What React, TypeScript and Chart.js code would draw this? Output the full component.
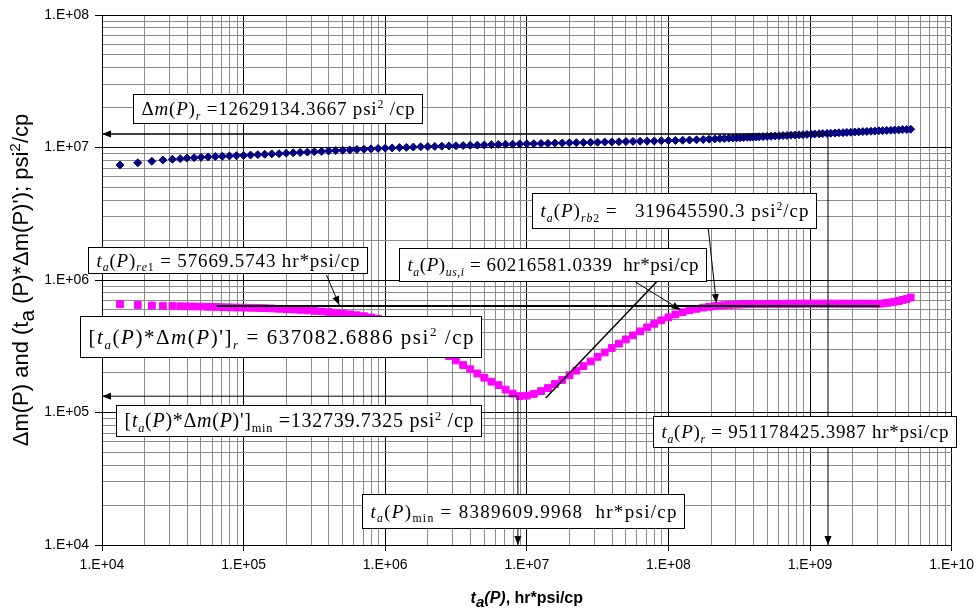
import { useEffect, useRef } from 'react';
import { Chart, registerables } from 'chart.js';

Chart.register(...registerables);

// ---- data ----
const pseudoTime: number[] = [
  1.34e4, 1.79e4, 2.25e4, 2.69e4, 3.14e4, 3.57e4,
  3.98e4, 4.47e4, 5.01e4, 5.62e4, 6.31e4, 7.08e4, 7.94e4, 8.91e4,
  1.0e5, 1.12e5, 1.26e5, 1.41e5, 1.58e5, 1.78e5, 2.0e5, 2.24e5, 2.51e5, 2.82e5,
  3.16e5, 3.55e5, 3.98e5, 4.47e5, 5.01e5, 5.62e5, 6.31e5, 7.08e5, 7.94e5, 8.91e5,
  1.0e6, 1.12e6, 1.26e6, 1.41e6, 1.58e6, 1.78e6, 2.0e6, 2.24e6, 2.51e6, 2.82e6,
  3.16e6, 3.55e6, 3.98e6, 4.47e6, 5.01e6, 5.62e6, 6.31e6, 7.08e6, 7.94e6, 8.91e6,
  1.0e7, 1.12e7, 1.26e7, 1.41e7, 1.58e7, 1.78e7, 2.0e7, 2.24e7, 2.51e7, 2.82e7,
  3.16e7, 3.55e7, 3.98e7, 4.47e7, 5.01e7, 5.62e7, 6.31e7, 7.08e7, 7.94e7, 8.91e7,
  1.0e8, 1.12e8, 1.26e8, 1.41e8, 1.58e8,
  1.76e8, 1.94e8, 2.13e8, 2.31e8, 2.48e8, 2.67e8, 2.85e8, 3.04e8, 3.21e8, 3.4e8,
  3.6e8, 3.78e8, 3.97e8, 4.17e8, 4.37e8,
  4.66e8, 4.98e8, 5.31e8, 5.67e8, 6.05e8, 6.45e8, 6.88e8, 7.34e8, 7.84e8, 8.36e8,
  8.92e8, 9.52e8, 1.02e9, 1.08e9, 1.16e9, 1.23e9, 1.32e9, 1.4e9, 1.5e9, 1.6e9,
  1.71e9, 1.82e9, 1.94e9, 2.07e9, 2.21e9, 2.36e9, 2.52e9, 2.69e9, 2.87e9, 3.06e9,
  3.26e9, 3.48e9, 3.72e9, 3.96e9, 4.23e9, 4.51e9, 4.82e9, 5.14e9,
];

const deltaMP: number[] = [
  7.38e6, 7.67e6, 7.87e6, 8.04e6, 8.15e6, 8.24e6,
  8.32e6, 8.38e6, 8.43e6, 8.49e6, 8.55e6, 8.59e6, 8.63e6, 8.67e6,
  8.71e6, 8.77e6, 8.83e6, 8.89e6, 8.95e6, 8.99e6, 9.06e6, 9.12e6, 9.18e6, 9.23e6,
  9.29e6, 9.35e6, 9.42e6, 9.48e6, 9.53e6, 9.59e6, 9.66e6, 9.7e6, 9.77e6, 9.84e6,
  9.89e6, 9.93e6, 9.98e6, 1.002e7, 1.007e7, 1.012e7, 1.016e7, 1.019e7, 1.023e7, 1.028e7,
  1.03e7, 1.035e7, 1.038e7, 1.042e7, 1.045e7, 1.05e7, 1.052e7, 1.057e7, 1.059e7, 1.064e7,
  1.067e7, 1.069e7, 1.072e7, 1.074e7, 1.079e7, 1.081e7, 1.084e7, 1.086e7, 1.089e7, 1.094e7,
  1.096e7, 1.099e7, 1.102e7, 1.104e7, 1.109e7, 1.112e7, 1.114e7, 1.117e7, 1.119e7, 1.125e7,
  1.127e7, 1.13e7, 1.135e7, 1.138e7, 1.143e7,
  1.148e7, 1.156e7, 1.161e7, 1.167e7, 1.169e7, 1.175e7, 1.178e7, 1.183e7, 1.186e7, 1.191e7,
  1.194e7, 1.197e7, 1.199e7, 1.202e7, 1.205e7,
  1.208e7, 1.213e7, 1.216e7, 1.222e7, 1.225e7, 1.23e7, 1.233e7, 1.239e7, 1.242e7, 1.247e7,
  1.25e7, 1.256e7, 1.259e7, 1.265e7, 1.268e7, 1.274e7, 1.276e7, 1.282e7, 1.285e7, 1.291e7,
  1.294e7, 1.3e7, 1.303e7, 1.309e7, 1.312e7, 1.318e7, 1.321e7, 1.327e7, 1.33e7, 1.337e7,
  1.34e7, 1.346e7, 1.349e7, 1.355e7, 1.358e7, 1.365e7, 1.368e7, 1.374e7,
];

const derivative: number[] = [
  6.56e5, 6.48e5, 6.42e5, 6.39e5, 6.37e5, 6.34e5,
  6.33e5, 6.31e5, 6.3e5, 6.28e5, 6.26e5, 6.24e5, 6.22e5, 6.2e5,
  6.19e5, 6.17e5, 6.15e5, 6.13e5, 6.1e5, 6.06e5, 6.03e5, 5.99e5, 5.95e5, 5.9e5,
  5.85e5, 5.79e5, 5.73e5, 5.66e5, 5.59e5, 5.51e5, 5.42e5, 5.33e5, 5.22e5, 5.1e5,
  4.95e5, 4.75e5, 4.51e5, 4.23e5, 3.95e5, 3.66e5, 3.39e5, 3.13e5, 2.89e5, 2.67e5,
  2.47e5, 2.28e5, 2.12e5, 1.97e5, 1.83e5, 1.71e5, 1.61e5, 1.49e5, 1.39e5, 1.33e5,
  1.34e5, 1.38e5, 1.45e5, 1.53e5, 1.64e5, 1.76e5, 1.91e5, 2.07e5, 2.24e5, 2.43e5,
  2.63e5, 2.84e5, 3.07e5, 3.31e5, 3.56e5, 3.82e5, 4.1e5, 4.39e5, 4.67e5, 4.96e5,
  5.23e5, 5.49e5, 5.71e5, 5.91e5, 6.06e5,
  6.19e5, 6.28e5, 6.35e5, 6.41e5, 6.45e5, 6.49e5, 6.51e5, 6.53e5, 6.54e5, 6.56e5,
  6.57e5, 6.58e5, 6.58e5, 6.59e5, 6.59e5,
  6.59e5, 6.6e5, 6.6e5, 6.61e5, 6.61e5, 6.61e5, 6.62e5, 6.62e5, 6.62e5, 6.62e5,
  6.63e5, 6.63e5, 6.63e5, 6.63e5, 6.63e5, 6.63e5, 6.63e5, 6.63e5, 6.63e5, 6.62e5,
  6.62e5, 6.62e5, 6.62e5, 6.62e5, 6.62e5, 6.62e5, 6.62e5, 6.62e5, 6.62e5, 6.61e5,
  6.65e5, 6.71e5, 6.77e5, 6.86e5, 6.94e5, 7.07e5, 7.19e5, 7.38e5,
];

const xDecades: number[] = [4, 5, 6, 7, 8, 9, 10];
const yDecades: number[] = [4, 5, 6, 7, 8];

// reference values shown in the annotations
const deltaMr = 12629134.3667;
const derivR = 637082.6886;
const derivMin = 132739.7325;

// ---- annotation geometry (data coordinates) ----
type Ref = { x1: number; y1: number; x2: number; y2: number; head?: 'start' | 'end'; w: number };
const refLines: Ref[] = [
  { x1: 1e4, y1: deltaMr, x2: 1.34e9, y2: deltaMr, head: 'start', w: 1.5 },
  { x1: 1.34e9, y1: deltaMr, x2: 1.34e9, y2: 1e4, head: 'end', w: 1 },
  { x1: 6.45e4, y1: derivR, x2: 3.11e9, y2: derivR, w: 2 },
  { x1: 1e4, y1: derivMin, x2: 8.65e6, y2: derivMin, head: 'start', w: 1 },
  { x1: 8.65e6, y1: derivMin, x2: 8.65e6, y2: 1e4, head: 'end', w: 1 },
  { x1: 1.36e7, y1: 1.285e5, x2: 8.5e7, y2: 1.0e6, w: 1.5 },
  { x1: 3.85e5, y1: 1.09e6, x2: 4.74e5, y2: 6.47e5, head: 'end', w: 1 },
  { x1: 5.86e7, y1: 9.66e5, x2: 1.22e8, y2: 5.94e5, head: 'end', w: 1 },
  { x1: 1.91e8, y1: 2.46e6, x2: 2.18e8, y2: 6.7e5, head: 'end', w: 1 },
];

type Seg = { t: string; i?: boolean; b?: boolean; sub?: boolean; sup?: boolean; k?: number };
const TA: Seg[] = [{ t: 't', i: true }, { t: 'a', i: true, sub: true }, { t: '(' }, { t: 'P', i: true }, { t: ')' }];
const DERIV: Seg[] = [
  { t: '[' }, ...TA, { t: '*' }, { t: 'Δ' }, { t: 'm', i: true }, { t: '(' }, { t: 'P', i: true }, { t: ")'" }, { t: ']' },
];

type Box = { t: number; v: number; w: number; h: number; size: number; segs: Seg[] };
const boxes: Box[] = [
  { t: 1.65e4, v: 2.53e7, w: 289, h: 29, size: 19, segs: [
    { t: 'Δ' }, { t: 'm', i: true }, { t: '(' }, { t: 'P', i: true }, { t: ')' }, { t: 'r', i: true, sub: true },
    { t: ' =12629134.3667 psi' }, { t: '2', sup: true }, { t: ' /cp' }] },
  { t: 7.97e3, v: 1.77e6, w: 279, h: 26, size: 19, segs: [
    ...TA, { t: 're', i: true, sub: true }, { t: '1', sub: true }, { t: ' = 57669.5743 hr*psi/cp' }] },
  { t: 1.255e6, v: 1.744e6, w: 307, h: 33, size: 19, segs: [
    ...TA, { t: 'us,i', i: true, sub: true }, { t: ' = 60216581.0339  hr*psi/cp' }] },
  { t: 1.084e7, v: 4.54e6, w: 284, h: 35, size: 19, segs: [
    ...TA, { t: 'rb', i: true, sub: true }, { t: '2', sub: true }, { t: ' =   319645590.3 psi' }, { t: '2', sup: true }, { t: '/cp' }] },
  { t: 7.0e3, v: 5.35e5, w: 401, h: 41, size: 21, segs: [
    ...DERIV, { t: 'r', i: true, sub: true }, { t: ' = 637082.6886 psi' }, { t: '2', sup: true }, { t: ' /cp' }] },
  { t: 1.255e4, v: 1.14e5, w: 365, h: 31, size: 20, segs: [
    ...DERIV, { t: 'min', sub: true }, { t: ' =132739.7325 psi' }, { t: '2', sup: true }, { t: ' /cp' }] },
  { t: 6.89e5, v: 2.43e4, w: 322, h: 34, size: 19, segs: [
    ...TA, { t: 'min', sub: true }, { t: ' = 8389609.9968  hr*psi/cp' }] },
  { t: 7.83e7, v: 9.42e4, w: 303, h: 31, size: 19, segs: [
    ...TA, { t: 'r', i: true, sub: true }, { t: ' = 951178425.3987 hr*psi/cp' }] },
];

const yTitle: Seg[] = [
  { t: 'Δm(P) and (t' }, { t: 'a', sub: true, k: 0.95 }, { t: ' (P)*Δm(P)\'); psi' }, { t: '2', sup: true, k: 0.7 }, { t: '/cp' },
];
const xTitle: Seg[] = [
  { t: 't', i: true, b: true }, { t: 'a', i: true, b: true, sub: true, k: 0.95 }, { t: '(', b: true, i: true }, { t: 'P', i: true, b: true },
  { t: ')', b: true, i: true }, { t: ', hr*psi/cp', b: true },
];

function drawSegs(ctx: CanvasRenderingContext2D, segs: Seg[], x: number, y: number, size: number, family: string, spacing: number, measureOnly: boolean): number {
  let cx = x;
  for (const s of segs) {
    const small = s.sub || s.sup;
    const fs = small ? size * (s.k ?? 0.62) : size;
    const dy = s.sub ? size * 0.25 : s.sup ? -size * 0.38 : 0;
    ctx.font = `${s.i ? 'italic ' : ''}${s.b ? 'bold ' : ''}${fs}px ${family}`;
    for (const ch of s.t) {
      if (!measureOnly) ctx.fillText(ch, cx, y + dy);
      cx += ctx.measureText(ch).width + spacing;
    }
  }
  return cx - x;
}

function countChars(segs: Seg[]): number {
  return segs.reduce((n, s) => n + [...s.t].length, 0);
}

function arrowHead(ctx: CanvasRenderingContext2D, fx: number, fy: number, tx: number, ty: number) {
  const ang = Math.atan2(ty - fy, tx - fx);
  const len = 9;
  const hw = 3.5;
  ctx.beginPath();
  ctx.moveTo(tx, ty);
  ctx.lineTo(tx - len * Math.cos(ang) + hw * Math.sin(ang), ty - len * Math.sin(ang) - hw * Math.cos(ang));
  ctx.lineTo(tx - len * Math.cos(ang) - hw * Math.sin(ang), ty - len * Math.sin(ang) + hw * Math.cos(ang));
  ctx.closePath();
  ctx.fill();
}

const annotationPlugin = {
  id: 'annotations',
  afterDatasetsDraw(chart: any) {
    const ctx: CanvasRenderingContext2D = chart.ctx;
    const xs = chart.scales.x;
    const ys = chart.scales.y;
    ctx.save();
    ctx.strokeStyle = '#000';
    ctx.fillStyle = '#000';
    for (const r of refLines) {
      const x1 = xs.getPixelForValue(r.x1);
      const y1 = ys.getPixelForValue(r.y1);
      const x2 = xs.getPixelForValue(r.x2);
      const y2 = ys.getPixelForValue(r.y2);
      ctx.lineWidth = r.w;
      ctx.beginPath();
      ctx.moveTo(x1, y1);
      ctx.lineTo(x2, y2);
      ctx.stroke();
      if (r.head === 'end') arrowHead(ctx, x1, y1, x2, y2);
      if (r.head === 'start') arrowHead(ctx, x2, y2, x1, y1);
    }
    ctx.restore();
  },
  afterDraw(chart: any) {
    const ctx: CanvasRenderingContext2D = chart.ctx;
    const xs = chart.scales.x;
    const ys = chart.scales.y;
    const area = chart.chartArea;
    ctx.save();
    const serif = '"Liberation Serif", "Times New Roman", serif';
    for (const b of boxes) {
      const bx = Math.round(xs.getPixelForValue(b.t)) + 0.5;
      const by = Math.round(ys.getPixelForValue(b.v)) + 0.5;
      ctx.fillStyle = '#fff';
      ctx.fillRect(bx, by, b.w, b.h);
      ctx.strokeStyle = '#000';
      ctx.lineWidth = 1;
      ctx.strokeRect(bx, by, b.w, b.h);
      const pad = 8;
      const natural = drawSegs(ctx, b.segs, 0, 0, b.size, serif, 0, true);
      const n = countChars(b.segs);
      let sp = (b.w - 2 * pad - natural) / Math.max(1, n - 1);
      sp = Math.max(-0.6, Math.min(3, sp));
      ctx.fillStyle = '#000';
      ctx.textBaseline = 'alphabetic';
      ctx.textAlign = 'left';
      drawSegs(ctx, b.segs, bx + pad, by + b.h / 2 + b.size * 0.32, b.size, serif, sp, false);
    }
    // axis titles
    const sans = '"Liberation Sans", Arial, sans-serif';
    ctx.fillStyle = '#000';
    ctx.textBaseline = 'alphabetic';
    ctx.textAlign = 'left';
    const ySize = 22;
    const yw = drawSegs(ctx, yTitle, 0, 0, ySize, sans, 0, true);
    ctx.save();
    ctx.translate(28, (area.top + area.bottom) / 2);
    ctx.rotate(-Math.PI / 2);
    drawSegs(ctx, yTitle, -yw / 2, 0, ySize, sans, 0, false);
    ctx.restore();
    const xSize = 16;
    const xw = drawSegs(ctx, xTitle, 0, 0, xSize, sans, 0, true);
    drawSegs(ctx, xTitle, (area.left + area.right) / 2 - xw / 2, 603, xSize, sans, 0, false);
    ctx.restore();
  },
};

const isDecade = (v: number) => {
  const e = Math.log10(v);
  return Math.abs(e - Math.round(e)) < 1e-9;
};

function logTicks(decades: number[]) {
  const ticks: { value: number }[] = [];
  for (let k = 0; k < decades.length - 1; k++) {
    for (let m = 1; m < 10; m++) ticks.push({ value: m * Math.pow(10, decades[k]) });
  }
  ticks.push({ value: Math.pow(10, decades[decades.length - 1]) });
  return ticks;
}

const tickLabel = (value: any) => {
  const v = Number(value);
  if (!isDecade(v)) return '';
  return '1.E+' + String(Math.round(Math.log10(v))).padStart(2, '0');
};

const gridColor = (c: any) => (c.tick && isDecade(c.tick.value) ? '#000000' : '#8c8c8c');
const tickColor = (c: any) => (c.tick && isDecade(c.tick.value) ? '#000000' : 'rgba(0,0,0,0)');

export default function App() {
  const ref = useRef<HTMLCanvasElement | null>(null);
  useEffect(() => {
    document.body.style.margin = '0';
    const canvas = ref.current;
    if (!canvas) return;
    const tickFont = { family: '"Liberation Sans", Arial, sans-serif', size: 14 };
    const chart = new Chart(canvas, {
      type: 'scatter',
      data: {
        datasets: [
          {
            label: 'Δm(P)',
            data: pseudoTime.map((t, i) => ({ x: t, y: deltaMP[i] })),
            pointStyle: 'rectRot',
            pointRadius: 4,
            backgroundColor: '#000080',
            borderColor: '#000080',
            borderWidth: 1,
          },
          {
            label: "ta(P)*Δm(P)'",
            data: pseudoTime.map((t, i) => ({ x: t, y: derivative[i] })),
            pointStyle: 'rect',
            pointRadius: 4.8,
            backgroundColor: '#ff00ff',
            borderColor: '#ff00ff',
            borderWidth: 1,
          },
        ],
      },
      options: {
        responsive: false,
        animation: false,
        devicePixelRatio: 1,
        layout: { padding: { left: 0, right: 26, top: 15, bottom: 0 } },
        plugins: { legend: { display: false }, tooltip: { enabled: false } },
        scales: {
          x: {
            type: 'logarithmic',
            min: 1e4,
            max: 1e10,
            afterBuildTicks: (s: any) => { s.ticks = logTicks(xDecades); },
            afterFit: (s: any) => { s.height = 71; },
            ticks: { autoSkip: false, maxRotation: 0, minRotation: 0, color: '#000', font: tickFont, padding: 6, callback: tickLabel },
            grid: { color: gridColor, tickColor: tickColor, tickLength: 6, lineWidth: 1 },
            border: { color: '#000', width: 1 },
          },
          y: {
            type: 'logarithmic',
            min: 1e4,
            max: 1e8,
            afterBuildTicks: (s: any) => { s.ticks = logTicks(yDecades); },
            afterFit: (s: any) => { s.width = 102; },
            ticks: { autoSkip: false, color: '#000', font: tickFont, padding: 6, callback: tickLabel },
            grid: { color: gridColor, tickColor: tickColor, tickLength: 7, lineWidth: 1 },
            border: { color: '#000', width: 1 },
          },
        },
      },
      plugins: [annotationPlugin],
    } as any);
    return () => chart.destroy();
  }, []);
  return <canvas ref={ref} width={980} height={616} style={{ display: 'block' }} />;
}
